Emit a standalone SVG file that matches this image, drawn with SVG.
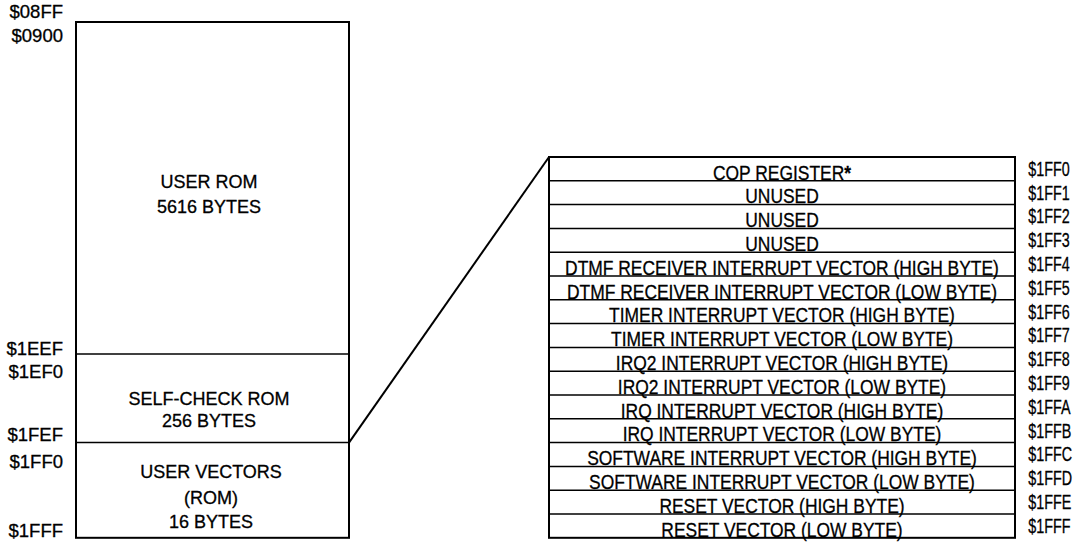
<svg xmlns="http://www.w3.org/2000/svg" width="1080" height="542" viewBox="0 0 1080 542">
<style>
text{font-family:"Liberation Sans",Arial,sans-serif;fill:#000;stroke:#000;stroke-width:0.3}
.t{font-size:18px;text-anchor:middle}
.r{font-size:20.5px;text-anchor:middle}
.a{font-size:20.5px}
.al{font-size:18.5px;text-anchor:end}
.box{fill:none;stroke:#000;stroke-width:2}
.div{stroke:#000;stroke-width:1.5}
</style>
<rect width="1080" height="542" fill="#fff"/>
<g id="memory-map">
<rect class="box" x="76" y="22" width="273" height="515.8"/>
<g id="user-rom">
<text class="t" x="209" y="188">USER ROM</text>
<text class="t" x="209" y="213">5616 BYTES</text>
</g>
<g id="self-check-rom">
<line class="div" x1="76" y1="354" x2="349" y2="354"/>
<text class="t" x="209" y="405">SELF-CHECK ROM</text>
<text class="t" x="209" y="427">256 BYTES</text>
</g>
<g id="user-vectors">
<line class="div" x1="76" y1="442.6" x2="349" y2="442.6"/>
<text class="t" x="211" y="478">USER VECTORS</text>
<text class="t" x="211" y="504">(ROM)</text>
<text class="t" x="211" y="528">16 BYTES</text>
</g>
<g id="map-addresses">
<text class="al" x="63" y="18">$08FF</text>
<text class="al" x="63" y="42">$0900</text>
<text class="al" x="63" y="355">$1EEF</text>
<text class="al" x="63" y="378">$1EF0</text>
<text class="al" x="63" y="441">$1FEF</text>
<text class="al" x="63" y="468">$1FF0</text>
<text class="al" x="63" y="537">$1FFF</text>
</g>
</g>
<g id="connectors">
<line x1="349" y1="442.6" x2="549" y2="157" stroke="#000" stroke-width="2"/>
</g>
<g id="vector-table">
<rect class="box" x="549" y="157" width="466" height="380.8"/>
<g class="rows">
<line class="div" x1="549" y1="180.8" x2="1015" y2="180.8"/>
<line class="div" x1="549" y1="204.6" x2="1015" y2="204.6"/>
<line class="div" x1="549" y1="228.4" x2="1015" y2="228.4"/>
<line class="div" x1="549" y1="252.2" x2="1015" y2="252.2"/>
<line class="div" x1="549" y1="276" x2="1015" y2="276"/>
<line class="div" x1="549" y1="299.8" x2="1015" y2="299.8"/>
<line class="div" x1="549" y1="323.6" x2="1015" y2="323.6"/>
<line class="div" x1="549" y1="347.4" x2="1015" y2="347.4"/>
<line class="div" x1="549" y1="371.2" x2="1015" y2="371.2"/>
<line class="div" x1="549" y1="395" x2="1015" y2="395"/>
<line class="div" x1="549" y1="418.8" x2="1015" y2="418.8"/>
<line class="div" x1="549" y1="442.6" x2="1015" y2="442.6"/>
<line class="div" x1="549" y1="466.4" x2="1015" y2="466.4"/>
<line class="div" x1="549" y1="490.2" x2="1015" y2="490.2"/>
<line class="div" x1="549" y1="514" x2="1015" y2="514"/>
</g>
<g id="row-labels" transform="scale(0.85,1)">
<text class="r" x="920" y="179.6">COP REGISTER<tspan font-weight="bold">*</tspan></text>
<text class="r" x="920" y="203.4">UNUSED</text>
<text class="r" x="920" y="227.2">UNUSED</text>
<text class="r" x="920" y="251">UNUSED</text>
<text class="r" x="920" y="274.8">DTMF RECEIVER INTERRUPT VECTOR (HIGH BYTE)</text>
<text class="r" x="920" y="298.6">DTMF RECEIVER INTERRUPT VECTOR (LOW BYTE)</text>
<text class="r" x="920" y="322.4">TIMER INTERRUPT VECTOR (HIGH BYTE)</text>
<text class="r" x="920" y="346.2">TIMER INTERRUPT VECTOR (LOW BYTE)</text>
<text class="r" x="920" y="370">IRQ2 INTERRUPT VECTOR (HIGH BYTE)</text>
<text class="r" x="920" y="393.8">IRQ2 INTERRUPT VECTOR (LOW BYTE)</text>
<text class="r" x="920" y="417.6">IRQ INTERRUPT VECTOR (HIGH BYTE)</text>
<text class="r" x="920" y="441.4">IRQ INTERRUPT VECTOR (LOW BYTE)</text>
<text class="r" x="920" y="465.2">SOFTWARE INTERRUPT VECTOR (HIGH BYTE)</text>
<text class="r" x="920" y="489">SOFTWARE INTERRUPT VECTOR (LOW BYTE)</text>
<text class="r" x="920" y="512.8">RESET VECTOR (HIGH BYTE)</text>
<text class="r" x="920" y="536.6">RESET VECTOR (LOW BYTE)</text>
</g>
<g id="row-addresses" transform="scale(0.7,1)">
<text class="a" x="1469" y="175.8">$1FF0</text>
<text class="a" x="1469" y="199.6">$1FF1</text>
<text class="a" x="1469" y="223.4">$1FF2</text>
<text class="a" x="1469" y="247.2">$1FF3</text>
<text class="a" x="1469" y="271">$1FF4</text>
<text class="a" x="1469" y="294.8">$1FF5</text>
<text class="a" x="1469" y="318.6">$1FF6</text>
<text class="a" x="1469" y="342.4">$1FF7</text>
<text class="a" x="1469" y="366.2">$1FF8</text>
<text class="a" x="1469" y="390">$1FF9</text>
<text class="a" x="1469" y="413.8">$1FFA</text>
<text class="a" x="1469" y="437.6">$1FFB</text>
<text class="a" x="1469" y="461.4">$1FFC</text>
<text class="a" x="1469" y="485.2">$1FFD</text>
<text class="a" x="1469" y="509">$1FFE</text>
<text class="a" x="1469" y="532.8">$1FFF</text>
</g>
</g>
</svg>
